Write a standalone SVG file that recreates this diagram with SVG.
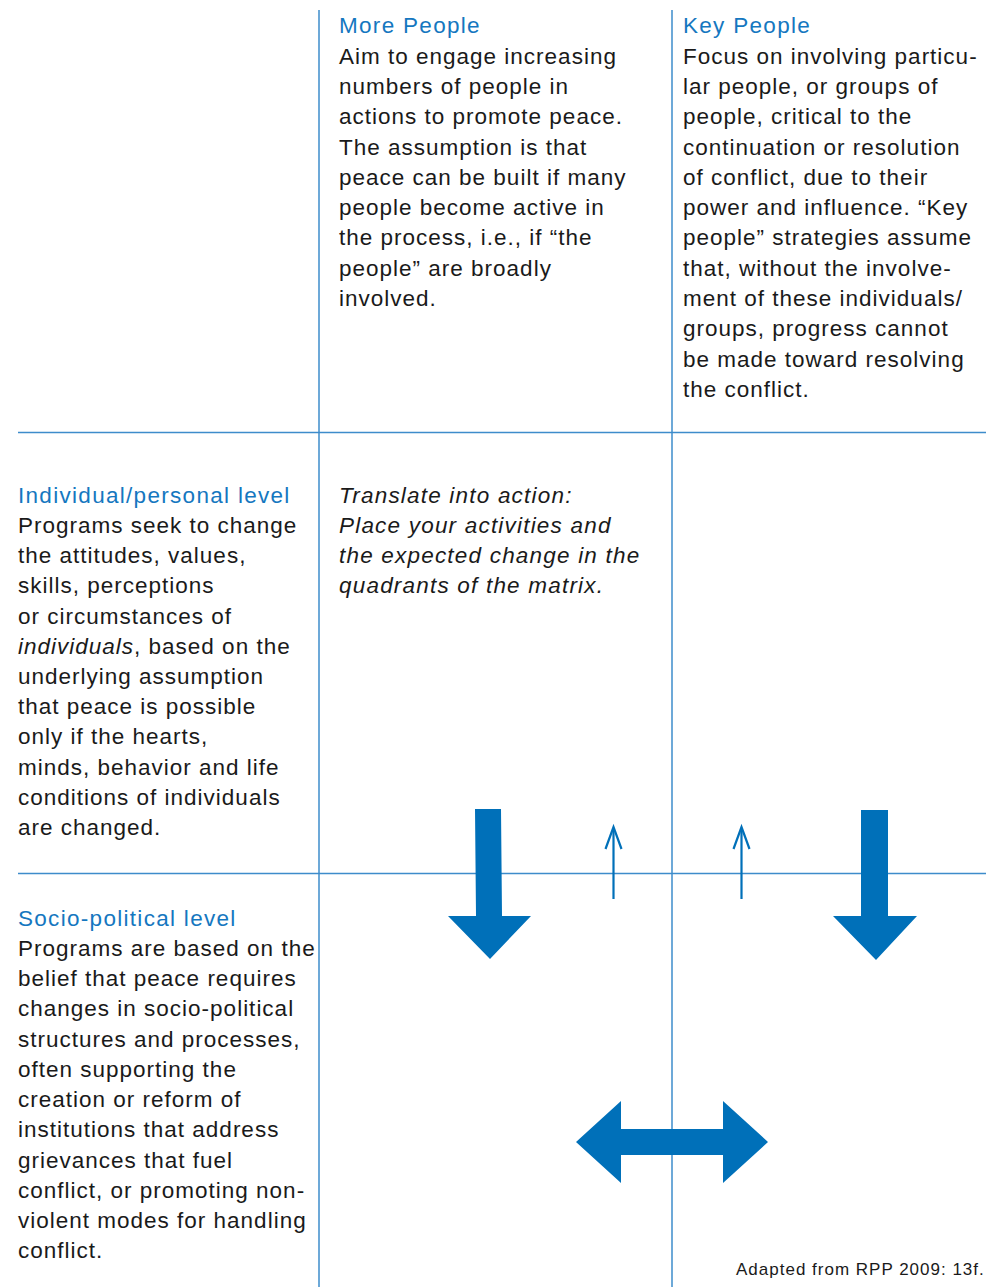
<svg xmlns="http://www.w3.org/2000/svg" width="986" height="1287" viewBox="0 0 986 1287">
<style>
.t{font-family:"Liberation Sans",Arial,sans-serif;font-size:22.5px;letter-spacing:1px;fill:#1a1a1a}
.h{font-family:"Liberation Sans",Arial,sans-serif;font-size:22.5px;letter-spacing:1.3px;fill:#1577c0}
.i{font-style:italic}
.ti{letter-spacing:1.2px}
.src{font-family:"Liberation Sans",Arial,sans-serif;font-size:17px;letter-spacing:1px;fill:#1a1a1a}
.grid{stroke:#3d8ccb;stroke-width:1.5;fill:none}
.big{fill:#0070b9}
.thin{stroke:#0070b9;stroke-width:2.2;fill:none}
</style>
<rect width="986" height="1287" fill="#fff"/>
<g id="grid">
<line class="grid" x1="319" y1="10" x2="319" y2="1287"/>
<line class="grid" x1="672" y1="10" x2="672" y2="1287"/>
<line class="grid" x1="18" y1="432.5" x2="986" y2="432.5"/>
<line class="grid" x1="18" y1="873.5" x2="986" y2="873.5"/>
</g>
<g id="more-people">
<text class="h" x="339" y="33">More People</text>
<text class="t" x="339"><tspan x="339" y="64">Aim to engage increasing</tspan><tspan x="339" y="94">numbers of people in</tspan><tspan x="339" y="124">actions to promote peace.</tspan><tspan x="339" y="155">The assumption is that</tspan><tspan x="339" y="185">peace can be built if many</tspan><tspan x="339" y="215">people become active in</tspan><tspan x="339" y="245">the process, i.e., if “the</tspan><tspan x="339" y="276">people” are broadly</tspan><tspan x="339" y="306">involved.</tspan></text>
</g>
<g id="key-people">
<text class="h" x="683" y="33">Key People</text>
<text class="t"><tspan x="683" y="64">Focus on involving particu-</tspan><tspan x="683" y="94">lar people, or groups of</tspan><tspan x="683" y="124">people, critical to the</tspan><tspan x="683" y="155">continuation or resolution</tspan><tspan x="683" y="185">of conflict, due to their</tspan><tspan x="683" y="215">power and influence. “Key</tspan><tspan x="683" y="245">people” strategies assume</tspan><tspan x="683" y="276">that, without the involve-</tspan><tspan x="683" y="306">ment of these individuals/</tspan><tspan x="683" y="336">groups, progress cannot</tspan><tspan x="683" y="367">be made toward resolving</tspan><tspan x="683" y="397">the conflict.</tspan></text>
</g>
<g id="individual-level">
<text class="h" x="18" y="503">Individual/personal level</text>
<text class="t"><tspan x="18" y="533">Programs seek to change</tspan><tspan x="18" y="563">the attitudes, values,</tspan><tspan x="18" y="593">skills, perceptions</tspan><tspan x="18" y="624">or circumstances of</tspan><tspan x="18" y="654"><tspan class="i">individuals</tspan>, based on the</tspan><tspan x="18" y="684">underlying assumption</tspan><tspan x="18" y="714">that peace is possible</tspan><tspan x="18" y="744">only if the hearts,</tspan><tspan x="18" y="775">minds, behavior and life</tspan><tspan x="18" y="805">conditions of individuals</tspan><tspan x="18" y="835">are changed.</tspan></text>
</g>
<g id="translate">
<text class="t i ti"><tspan x="339" y="503">Translate into action:</tspan><tspan x="339" y="533">Place your activities and</tspan><tspan x="339" y="563">the expected change in the</tspan><tspan x="339" y="593">quadrants of the matrix.</tspan></text>
</g>
<g id="socio-political-level">
<text class="h" x="18" y="926">Socio-political level</text>
<text class="t"><tspan x="18" y="956">Programs are based on the</tspan><tspan x="18" y="986">belief that peace requires</tspan><tspan x="18" y="1016">changes in socio-political</tspan><tspan x="18" y="1047">structures and processes,</tspan><tspan x="18" y="1077">often supporting the</tspan><tspan x="18" y="1107">creation or reform of</tspan><tspan x="18" y="1137">institutions that address</tspan><tspan x="18" y="1168">grievances that fuel</tspan><tspan x="18" y="1198">conflict, or promoting non-</tspan><tspan x="18" y="1228">violent modes for handling</tspan><tspan x="18" y="1258">conflict.</tspan></text>
</g>
<g id="connectors">
<polygon class="big" points="475,809 501,809 502,916 531,916 490,959 448,916 476,916"/>
<polygon class="big" points="861,810 888,810 888,916 917,916 876,960 833,916 861,916"/>
<polygon class="big" points="576,1142 621,1101 621,1129 723,1129 723,1101 768,1142 723,1183 723,1155 621,1155 621,1183"/>
<line class="thin" x1="613.5" y1="899" x2="613.5" y2="828"/>
<polyline class="thin" points="605.5,849 613.5,827 621.5,849"/>
<line class="thin" x1="741.5" y1="899" x2="741.5" y2="828"/>
<polyline class="thin" points="733.5,849 741.5,827 749.5,849"/>
</g>
<text class="src" x="736" y="1275">Adapted from RPP 2009: 13f.</text>
</svg>
